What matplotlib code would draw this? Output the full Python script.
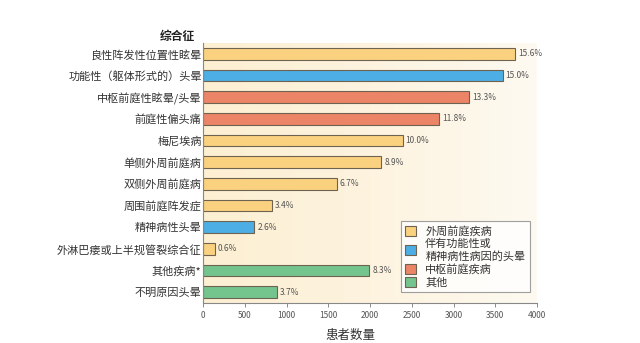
import matplotlib
matplotlib.use("Agg")
import numpy as np
import matplotlib.pyplot as plt
from matplotlib.patches import Patch
from matplotlib.colors import LinearSegmentedColormap

plt.rcParams['font.family'] = ['Noto Sans CJK SC', 'DejaVu Sans']

# 数据
categories = ['良性阵发性位置性眩晕', '功能性（躯体形式的）头晕', '中枢前庭性眩晕/头晕',
              '前庭性偏头痛', '梅尼埃病', '单侧外周前庭病', '双侧外周前庭病',
              '周围前庭阵发症', '精神病性头晕', '外淋巴瘘或上半规管裂综合征',
              '其他疾病*', '不明原因头晕']
counts = [3737, 3590, 3186, 2826, 2391, 2135, 1601, 822, 615, 144, 1992, 882]
pct_labels = ['15.6%', '15.0%', '13.3%', '11.8%', '10.0%', '8.9%', '6.7%',
              '3.4%', '2.6%', '0.6%', '8.3%', '3.7%']
groups = [0, 1, 2, 2, 0, 0, 0, 0, 1, 0, 3, 3]
group_names = ['外周前庭疾病', '伴有功能性或\n精神病性病因的头晕', '中枢前庭疾病', '其他']
group_colors = ['#FAD27F', '#4DAEE6', '#EC8468', '#74C48E']
xticks = [0, 500, 1000, 1500, 2000, 2500, 3000, 3500, 4000]

fig = plt.figure(figsize=(6.4, 3.43), dpi=100)
ax = fig.add_axes([203 / 640, 1 - 303 / 343, 334 / 640, 260 / 343])

# 背景渐变
bg = LinearSegmentedColormap.from_list('bg', ['#FCEFD2', '#FDF3DF', '#FEFAF1'])
grad = np.linspace(0, 1, 256).reshape(1, -1)
ax.imshow(grad, cmap=bg, aspect='auto', extent=[0, 1, 0, 1],
          transform=ax.transAxes, zorder=0)

y = list(range(len(categories)))
colors = [group_colors[g] for g in groups]
ax.barh(y, counts, height=0.55, color=colors, edgecolor='#6E6350', linewidth=0.8, zorder=2)
for yi, c, lab in zip(y, counts, pct_labels):
    ax.text(c + 35, yi, lab, va='center', ha='left', fontsize=6, color='#555555')

ax.set_ylim(len(categories) - 0.5, -0.5)
ax.set_xlim(0, 4000)
ax.set_yticks(y)
ax.set_yticklabels(categories, fontsize=8, color='#333333')
ax.tick_params(axis='y', length=0, pad=1)
ax.set_xticks(xticks)
ax.set_xticklabels([str(t) for t in xticks], fontsize=6, color='#555555')
ax.tick_params(axis='x', length=3, width=0.6, color='#777777', pad=3)
for s in ['top', 'right']:
    ax.spines[s].set_visible(False)
for s in ['left', 'bottom']:
    ax.spines[s].set_color('#888888')
    ax.spines[s].set_linewidth(0.8)

ax.set_xlabel('患者数量', fontsize=9, color='#333333')
ax.xaxis.set_label_coords(0.44, -0.1)
fig.text(195 / 640, 1 - 36 / 343, '综合征', ha='right', va='center',
         fontsize=8.5, fontweight='bold', color='#222222')

handles = [Patch(facecolor=c, edgecolor='#6E6350', linewidth=0.8) for c in group_colors]
leg = ax.legend(handles, group_names, loc='lower right', bbox_to_anchor=(0.995, 0.02),
                fontsize=8, frameon=True, fancybox=False, handlelength=1.0,
                handleheight=1.0, handletextpad=0.8, labelspacing=0.2,
                borderpad=0.4, labelcolor='#333333')
leg.get_frame().set_edgecolor('#888888')
leg.get_frame().set_facecolor('white')
leg.get_frame().set_linewidth(0.8)
leg.set_zorder(5)

fig.savefig('out.png', dpi=100, facecolor='white')
